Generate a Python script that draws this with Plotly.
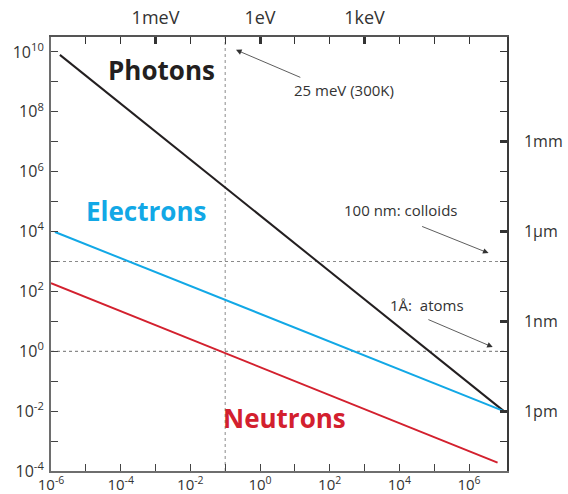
import plotly.graph_objects as go

# ---- data ----
photon_energy = [1.8e-6, 1.0e7]       # eV
photon_lambda = [8.0e9, 1.0e-2]       # Angstrom
electron_energy = [1.3e-6, 1.0e7]
electron_lambda = [9.7e3, 1.0e-2]
neutron_energy = [1.0e-6, 6.6e6]
neutron_lambda = [1.9e2, 1.9e-4]

ref_energy = [0.1]            # vertical dotted line
ref_lambda = [1.0e3, 1.0]     # horizontal dotted lines (100 nm, 1 A)

x_label_exp = [-6, -4, -2, 0, 2, 4, 6]
x_minor_exp = [-5, -3, -1, 1, 3, 5]
x_all_exp = [-5, -4, -3, -2, -1, 0, 1, 2, 3, 4, 5, 6]
y_label_exp = [-4, -2, 0, 2, 4, 6, 8, 10]
y_minor_exp = [-3, -1, 1, 3, 5, 7, 9]
y_all_exp = [-3, -2, -1, 0, 1, 2, 3, 4, 5, 6, 7, 8, 9, 10]
top_vals = [1e-3, 1.0, 1e3]
top_text = ["1meV", "1eV", "1keV"]
right_vals = [1e7, 1e4, 1e1, 1e-2]
right_text = ["1mm", "1\u03bcm", "1nm", "1pm"]

BLACK = "#231f20"
BLUE = "#12a8e6"
RED = "#d3202e"
AXIS = "#6e6e6e"
FONT = "Open Sans"

XR = [-6, 7.09]
YR = [-4, 10.5]

fig = go.Figure()
fig.add_trace(go.Scatter(x=photon_energy, y=photon_lambda, mode="lines",
                         line=dict(color=BLACK, width=2), showlegend=False))
fig.add_trace(go.Scatter(x=electron_energy, y=electron_lambda, mode="lines",
                         line=dict(color=BLUE, width=2), showlegend=False))
fig.add_trace(go.Scatter(x=neutron_energy, y=neutron_lambda, mode="lines",
                         line=dict(color=RED, width=2), showlegend=False))
# empty trace to bind the top/right axes
fig.add_trace(go.Scatter(x=[], y=[], xaxis="x2", yaxis="y2", showlegend=False))

for e in ref_energy:
    fig.add_shape(type="line", xref="x", yref="y domain", x0=e, x1=e, y0=0, y1=1,
                  line=dict(color="#8a8a8a", width=1, dash="dot"), layer="below")
for l in ref_lambda:
    fig.add_shape(type="line", xref="x domain", yref="y", x0=0, x1=1, y0=l, y1=l,
                  line=dict(color="#8a8a8a", width=1.2, dash="dot"), layer="below")

tickfont = dict(family=FONT, size=16, color="#333333")

fig.update_layout(
    width=568, height=494,
    margin=dict(l=51, r=61, t=37, b=23, autoexpand=False),
    paper_bgcolor="white", plot_bgcolor="white",
    showlegend=False,
    xaxis=dict(type="log", range=XR, showgrid=False, zeroline=False, automargin=False,
               showline=True, linecolor=AXIS, linewidth=2,
               tickmode="array",
               tickvals=[10.0 ** k for k in x_label_exp],
               ticktext=["10<sup>%d</sup>" % k for k in x_label_exp],
               ticks="inside", ticklen=7, tickwidth=1.2, tickcolor="#444444",
               tickfont=dict(family=FONT, size=15, color="#333333"),
               anchor="y", ticklabelstandoff=-1,
               minor=dict(tickmode="array", tickvals=[10.0 ** k for k in x_minor_exp],
                          ticks="inside", ticklen=7, tickwidth=1.2, tickcolor="#444444")),
    yaxis=dict(type="log", range=YR, showgrid=False, zeroline=False, automargin=False,
               showline=True, linecolor=AXIS, linewidth=2,
               tickmode="array",
               tickvals=[10.0 ** k for k in y_label_exp],
               ticktext=["10<sup>%d</sup>" % k for k in y_label_exp],
               ticks="inside", ticklen=7, tickwidth=1.2, tickcolor="#444444",
               tickfont=tickfont, anchor="x", ticklabelstandoff=2,
               minor=dict(tickmode="array", tickvals=[10.0 ** k for k in y_minor_exp],
                          ticks="inside", ticklen=7, tickwidth=1.2, tickcolor="#444444")),
    xaxis2=dict(type="log", range=XR, overlaying="x", side="top", anchor="y",
                showgrid=False, zeroline=False, automargin=False,
                showline=True, linecolor="#555555", linewidth=1.5,
                tickmode="array", tickvals=top_vals, ticktext=top_text,
                ticks="inside", ticklen=7, tickwidth=2.5, tickcolor="#333333",
                tickfont=dict(family=FONT, size=18, color="#333333"),
                ticklabelstandoff=4,
                minor=dict(tickmode="array", tickvals=[10.0 ** k for k in x_all_exp],
                           ticks="inside", ticklen=7, tickwidth=1.2, tickcolor="#333333")),
    yaxis2=dict(type="log", range=YR, overlaying="y", side="right", anchor="x",
                showgrid=False, zeroline=False, automargin=False,
                showline=True, linecolor="#3a3a3a", linewidth=1.5,
                tickmode="array", tickvals=right_vals, ticktext=right_text,
                ticks="inside", ticklen=7, tickwidth=2.5, tickcolor="#333333",
                tickfont=dict(family=FONT, size=16, color="#333333"),
                ticklabelstandoff=12,
                minor=dict(tickmode="array", tickvals=[10.0 ** k for k in y_all_exp],
                           ticks="inside", ticklen=7, tickwidth=1.2, tickcolor="#333333")),
)

def label(x, y, text, color, size, bold=True):
    fig.add_annotation(x=x, y=y, xref="x", yref="y", showarrow=False,
                       text=("<b>%s</b>" % text) if bold else text,
                       font=dict(family=FONT, size=size, color=color))

# series labels (log10 coordinates)
label(-2.82, 9.40, "Photons", BLACK, 26)
label(-3.27, 4.69, "Electrons", BLUE, 26)
label(0.71, -2.23, "Neutrons", RED, 26)

# side notes with arrows
note_font = dict(family=FONT, size=15, color="#333333")
fig.add_annotation(x=2.40, y=8.73, xref="x", yref="y", text="25 meV (300K)",
                   showarrow=False, font=note_font)
fig.add_annotation(x=-0.69, y=10.07, xref="x", yref="y", ax=1.20, ay=9.13,
                   axref="x", ayref="y", text="", showarrow=True,
                   arrowhead=2, arrowsize=1.4, arrowwidth=0.8, arrowcolor="#333333")
fig.add_annotation(x=4.04, y=4.72, xref="x", yref="y", text="100 nm: colloids",
                   showarrow=False, font=note_font)
fig.add_annotation(x=6.56, y=3.28, xref="x", yref="y", ax=4.61, ay=4.19,
                   axref="x", ayref="y", text="", showarrow=True,
                   arrowhead=2, arrowsize=1.4, arrowwidth=0.8, arrowcolor="#333333")
fig.add_annotation(x=4.79, y=1.55, xref="x", yref="y", text="1\u00c5:  atoms",
                   showarrow=False, font=note_font)
fig.add_annotation(x=6.68, y=0.14, xref="x", yref="y", ax=4.79, ay=1.08,
                   axref="x", ayref="y", text="", showarrow=True,
                   arrowhead=2, arrowsize=1.4, arrowwidth=0.8, arrowcolor="#333333")

fig.write_html("out.html", config={"displayModeBar": False},
               post_script="document.body.style.margin='0';document.body.style.overflow='hidden';")
